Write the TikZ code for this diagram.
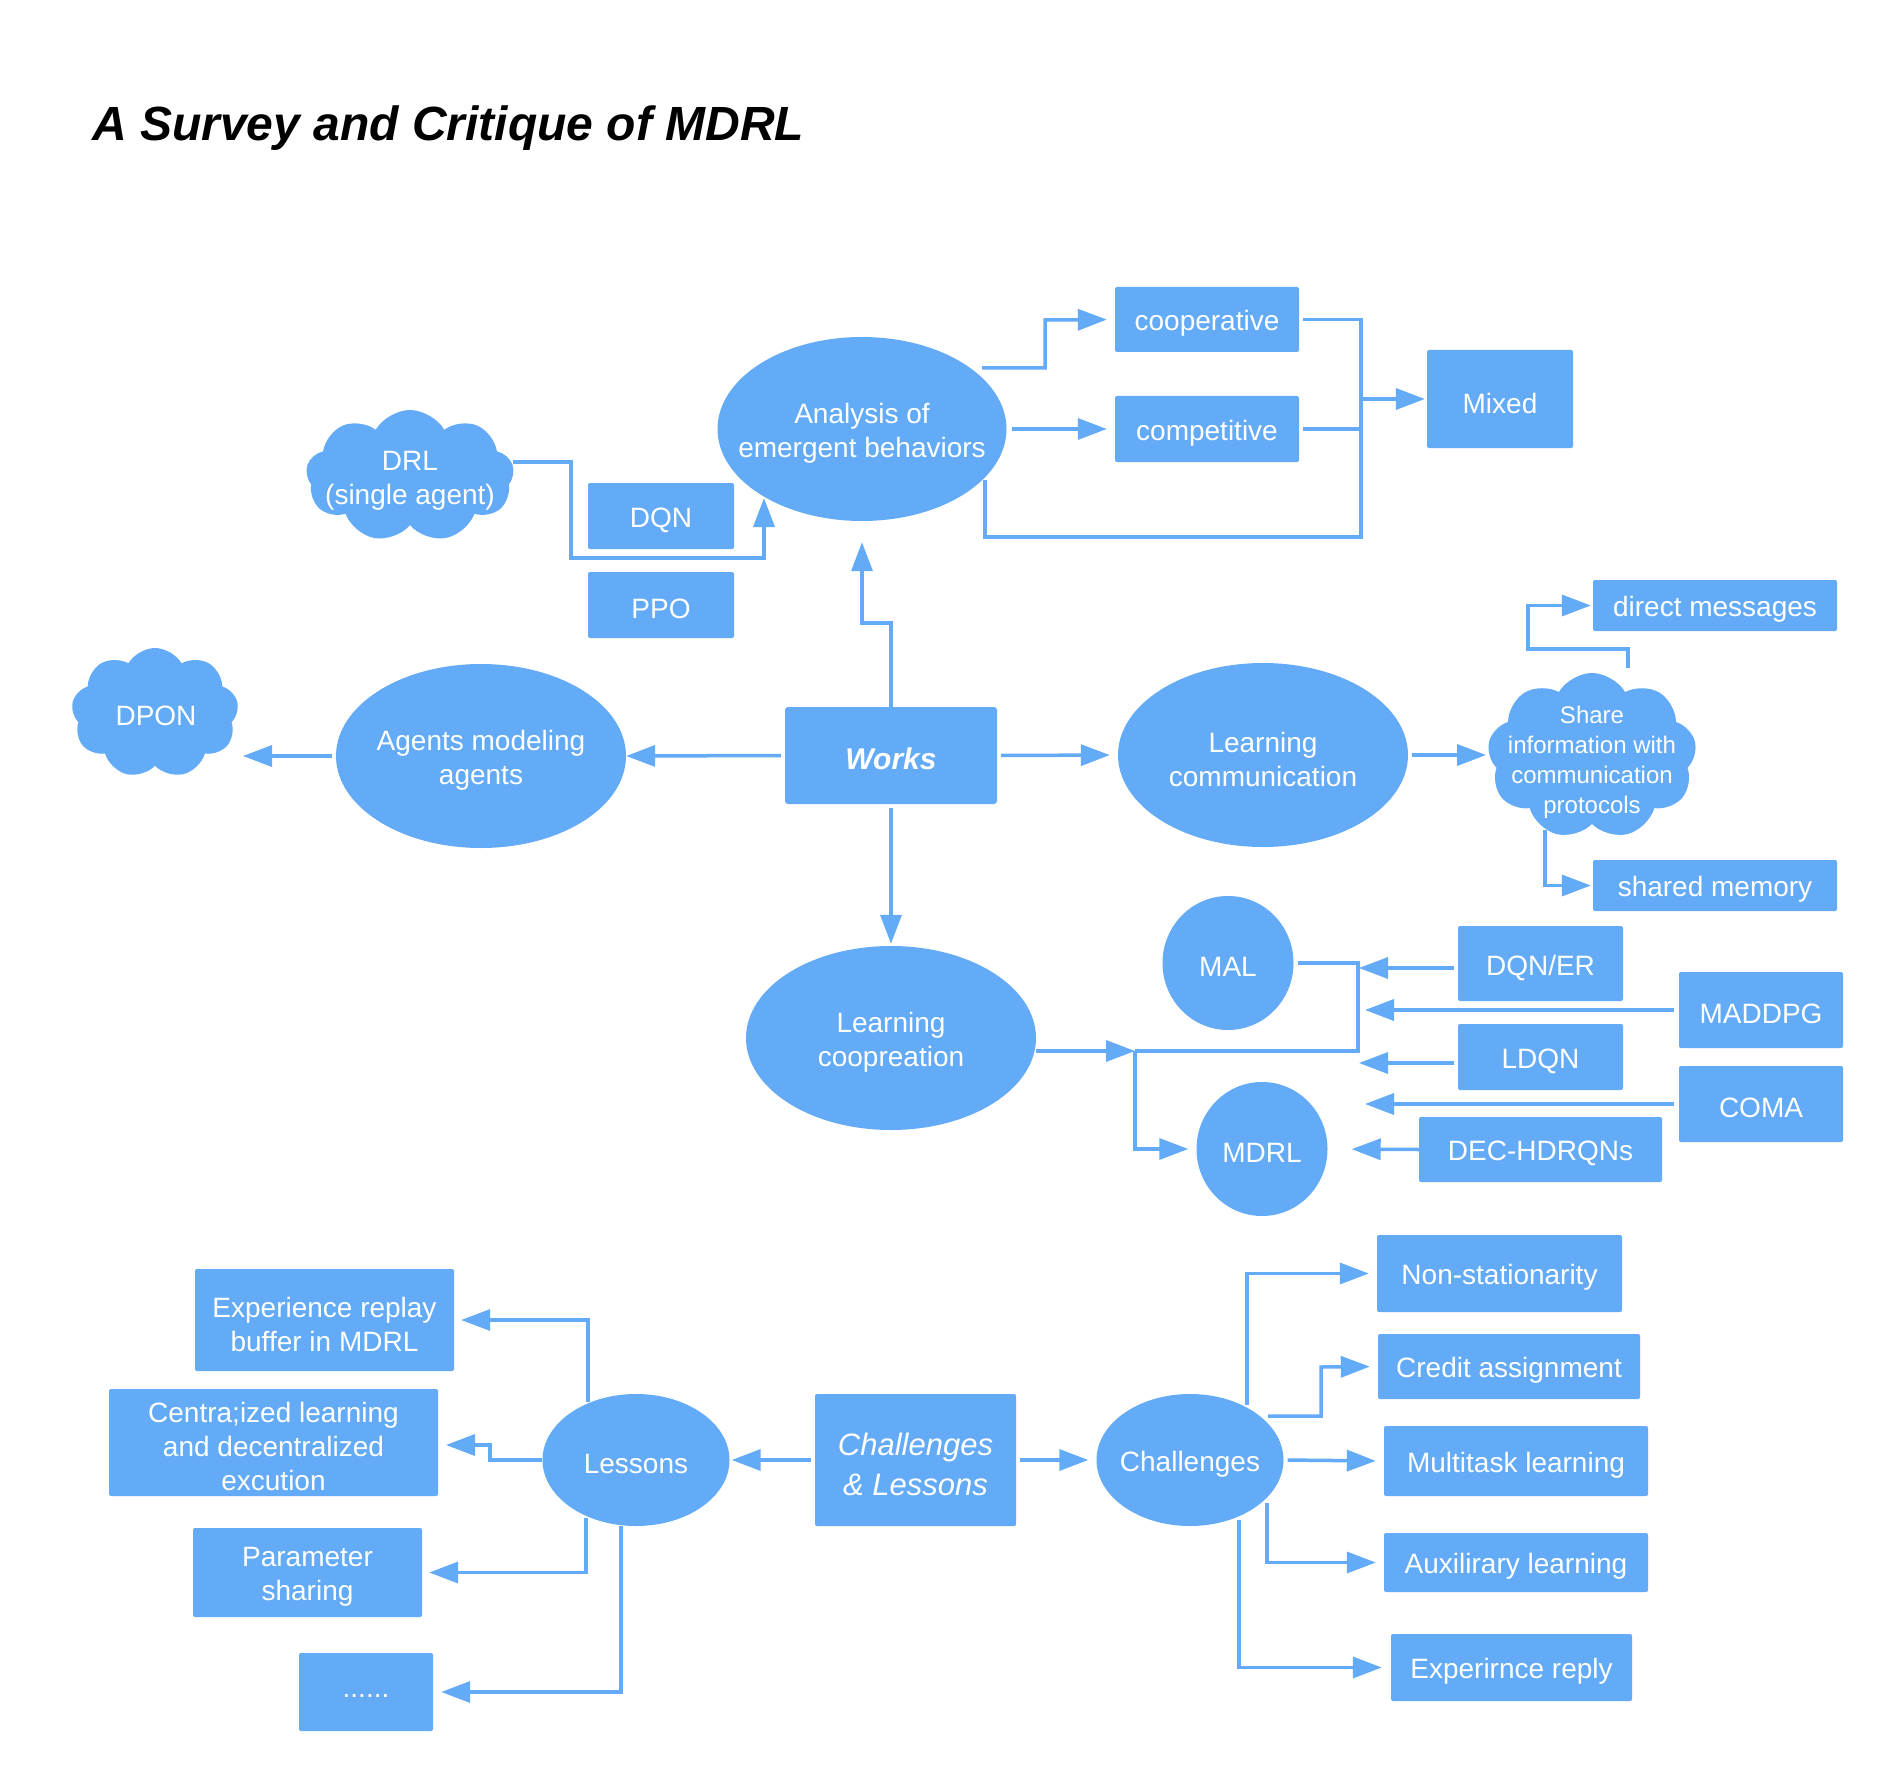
\documentclass[tikz,border=0pt]{standalone}
\usepackage{fontspec}
\setmainfont{Liberation Sans}
\usetikzlibrary{shapes.geometric,shapes.symbols,arrows.meta}
\definecolor{bl}{RGB}{99,171,246}
\tikzset{
 basesty/.style={fill=bl, draw=none, text=white, font=\fontsize{28}{34}\selectfont, align=center, inner sep=0pt},
 rbox/.style={basesty, rectangle, rounded corners=2pt},
 ell/.style={basesty, ellipse},
 cld/.style={basesty, cloud, cloud puffs=9, cloud puff arc=120, cloud ignores aspect},
 txt/.style={text=white, font=\fontsize{28}{34}\selectfont, align=center, inner sep=0pt},
 lab/.style={label={[txt,yshift=-4pt]center:#1}},
 con/.style={draw=bl, line width=3.5pt},
 arr/.style={con, -{Triangle[length=29pt,width=21pt]}},
}
\begin{document}
\begin{tikzpicture}[x=1pt,y=-1pt]
\fill[white] (0,0) rectangle (1898,1784);
\useasboundingbox (0,0) rectangle (1898,1784);

\node[anchor=base west, inner sep=0pt, font=\fontsize{48}{58}\selectfont\bfseries\itshape] (title) at (92,141) {A Survey and Critique of MDRL};

% top part
\node[ell, minimum width=289pt, minimum height=184pt, lab={Analysis of\\emergent behaviors}] (analysis) at (862,429) {};
\node[cld, minimum width=208pt, minimum height=132pt] (drl) at (410,476) {};
\node[txt] (drltxt) at (410,481) {DRL\\(single agent)};
\node[rbox, minimum width=146pt, minimum height=66pt, lab={DQN}] (dqn) at (661,516) {};
\node[rbox, minimum width=146pt, minimum height=66pt, lab={PPO}] (ppo) at (661,605) {};
\node[rbox, minimum width=184pt, minimum height=65pt, lab={cooperative}] (coop) at (1207,319.5) {};
\node[rbox, minimum width=184pt, minimum height=66pt, lab={competitive}] (comp) at (1207,429) {};
\node[rbox, minimum width=146pt, minimum height=98pt, lab={Mixed}] (mixed) at (1500,399) {};

% middle row
\node[cld, minimum width=167pt, minimum height=130pt] (dpon) at (155,713) {};
\node[txt] (dpontxt) at (156,716) {DPON};
\node[ell, minimum width=290pt, minimum height=184pt, lab={Agents modeling\\agents}] (ama) at (481,756) {};
\node[rbox, rounded corners=3pt, minimum width=212pt, minimum height=97pt, label={[txt,yshift=-3pt,font=\fontsize{30}{36}\selectfont\bfseries\itshape]center:Works}] (works) at (891,755.5) {};
\node[ell, minimum width=290pt, minimum height=184pt, lab={Learning\\communication}] (lcomm) at (1263,755) {};
\node[cld, minimum width=209pt, minimum height=166pt] (share) at (1592,756) {};
\node[txt, font=\fontsize{24}{30}\selectfont] (sharetxt) at (1592,762) {Share\\information with\\communication\\protocols};
\node[rbox, minimum width=244pt, minimum height=51pt, lab={direct messages}] (direct) at (1715,605.5) {};
\node[rbox, minimum width=244pt, minimum height=51pt, lab={shared memory}] (shared) at (1715,885.5) {};

% cooperation
\node[ell, minimum width=290pt, minimum height=184pt, lab={Learning\\coopreation}] (lcoop) at (891,1038) {};
\node[ell, minimum width=131pt, minimum height=134pt, lab={MAL}] (mal) at (1228,963) {};
\node[ell, minimum width=131pt, minimum height=134pt, lab={MDRL}] (mdrl) at (1262,1149) {};
\node[rbox, minimum width=165pt, minimum height=75pt, lab={DQN/ER}] (dqner) at (1540.5,963.5) {};
\node[rbox, minimum width=164pt, minimum height=76pt, lab={MADDPG}] (maddpg) at (1761,1010) {};
\node[rbox, minimum width=165pt, minimum height=66pt, lab={LDQN}] (ldqn) at (1540.5,1057) {};
\node[rbox, minimum width=164pt, minimum height=76pt, lab={COMA}] (coma) at (1761,1104) {};
\node[rbox, minimum width=243pt, minimum height=65pt, lab={DEC-HDRQNs}] (dec) at (1540.5,1149.5) {};

% bottom
\node[rbox, minimum width=201pt, minimum height=132pt, label={[txt,yshift=-4pt,font=\fontsize{31}{40}\selectfont\itshape]center:Challenges\\\& Lessons}] (cl) at (915.5,1460) {};
\node[ell, minimum width=187pt, minimum height=132pt, lab={Lessons}] (lessons) at (636,1460) {};
\node[ell, minimum width=187pt, minimum height=132pt, lab={Challenges}] (challenges) at (1190,1460) {};
\node[rbox, minimum width=259pt, minimum height=102pt, lab={Experience replay\\buffer in MDRL}] (expbox) at (324.5,1320) {};
\node[rbox, minimum width=329pt, minimum height=107pt, lab={Centra;ized learning\\and decentralized\\excution}] (cent) at (273.5,1442.5) {};
\node[rbox, minimum width=229pt, minimum height=89pt, lab={Parameter\\sharing}] (param) at (307.5,1572.5) {};
\node[rbox, minimum width=134pt, minimum height=78pt, lab={......}] (dots) at (366,1692) {};
\node[rbox, minimum width=245pt, minimum height=77pt, lab={Non-stationarity}] (nonstat) at (1499.5,1273.5) {};
\node[rbox, minimum width=262pt, minimum height=65pt, lab={Credit assignment}] (credit) at (1509,1366.5) {};
\node[rbox, minimum width=264pt, minimum height=70pt, lab={Multitask learning}] (multi) at (1516,1461) {};
\node[rbox, minimum width=264pt, minimum height=59pt, lab={Auxilirary learning}] (aux) at (1516,1562.5) {};
\node[rbox, minimum width=241pt, minimum height=67pt, lab={Experirnce reply}] (expr) at (1511.5,1667.5) {};

% connectors top
\draw[arr] (drl.east |- 0,462) -- (571,462) -- (571,558) -- (764,558) -- (764,498);
\draw[arr, shorten >=21pt] (works.north) |- (862,623) -- (analysis.south);
\draw[arr, shorten <=4pt] (works.west) -- (ama.east);
\draw[arr, shorten <=4pt] (ama.west) -- (243,756);
\draw[arr, shorten >=8pt] (982,368) -| (1045,320) -- (coop.west);
\draw[arr, shorten <=5pt, shorten >=8pt] (analysis.east) -- (comp.west);
\draw[arr, shorten <=4pt, shorten >=2pt] (coop.east) -| (1361,399) -- (mixed.west);
\draw[con, shorten <=4pt] (comp.east) -| (1361,399);
\draw[con] (985,480) |- (1361,537) -- (1361,399);
\draw[arr, shorten <=4pt, shorten >=8pt] (works.east) -- (lcomm.west);
\draw[arr, shorten <=4pt] (lcomm.east) -- (1486,755);
\draw[arr, shorten >=2pt] (1628,668) |- (1528,649) |- (direct.west);
\draw[arr, shorten >=2pt] (1545,830) |- (shared.west);

% connectors cooperation
\draw[arr, shorten <=4pt, shorten >=2pt] (works.south) -- (lcoop.north);
\coordinate (jn) at (1135,1051);
\draw[arr] (lcoop.east |- 0,1051) -- (jn);
\draw[con, shorten >=4pt] (jn) -- (1358,1051) |- (mal.east);
\draw[arr, shorten >=8pt] (jn) |- (mdrl.west);
\draw[arr, shorten <=4pt] (dqner.west |- 0,968) -- (1359,968);
\draw[arr, shorten <=5pt] (maddpg.west) -- (1365,1010);
\draw[arr, shorten <=4pt] (ldqn.west |- 0,1063) -- (1359,1063);
\draw[arr, shorten <=5pt] (coma.west) -- (1365,1104);
\draw[arr, shorten >=24pt] (dec.west) -- (mdrl.east);

% connectors bottom
\draw[arr, shorten <=4pt, shorten >=2pt] (cl.west) -- (lessons.east);
\draw[arr, shorten <=4pt, shorten >=8pt] (cl.east) -- (challenges.west);
\draw[arr, shorten >=7pt] (588,1402) |- (expbox.east);
\draw[arr] (lessons.west) -| (490,1445) -- (446,1445);
\draw[arr, shorten >=7pt] (586,1518) |- (param.east);
\draw[arr, shorten >=8pt] (621,1526) |- (dots.east);
\draw[arr, shorten >=8pt] (1247,1405) |- (nonstat.west);
\draw[arr, shorten >=8pt] (1268,1416) -| (1321,1367) -- (credit.west);
\draw[arr, shorten <=4pt, shorten >=8pt] (challenges.east) -- (multi.west);
\draw[arr, shorten >=8pt] (1267,1503) |- (aux.west);
\draw[arr, shorten >=9pt] (1239,1520) |- (expr.west);
\end{tikzpicture}
\end{document}
